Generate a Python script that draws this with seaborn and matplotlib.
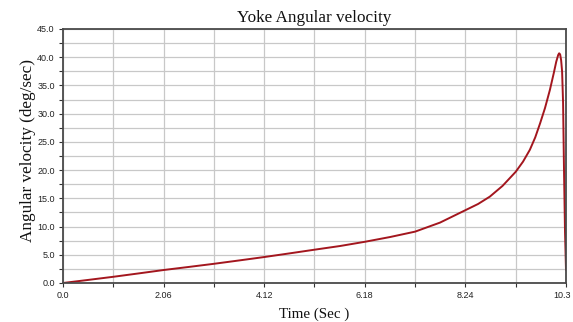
import matplotlib
matplotlib.use("Agg")
import matplotlib.pyplot as plt
import matplotlib.transforms as mtransforms
import seaborn as sns
import pandas as pd
from matplotlib.ticker import MultipleLocator, FixedLocator

time_sec = [0.0, 0.52, 1.03, 1.55, 2.06, 2.58, 3.09, 3.61, 4.12, 4.64, 5.15, 5.67,
            6.18, 6.70, 7.21, 7.72, 8.24, 8.50, 8.74, 9.00, 9.27, 9.42, 9.56, 9.67,
            9.77, 9.87, 9.97, 10.05, 10.10, 10.14, 10.16, 10.18, 10.20, 10.22,
            10.24, 10.26, 10.28, 10.30]
velocity = [0.0, 0.55, 1.1, 1.7, 2.3, 2.85, 3.4, 4.0, 4.6, 5.25, 5.9, 6.55,
            7.3, 8.15, 9.1, 10.7, 12.9, 14.0, 15.3, 17.2, 19.7, 21.5, 23.6, 25.8,
            28.3, 31.0, 34.2, 37.2, 39.2, 40.4, 40.7, 40.5, 39.5, 37.5,
            32.0, 19.5, 9.0, 2.3]

x_ticks = [0.0, 2.06, 4.12, 6.18, 8.24, 10.3]
x_tick_labels = ["0.0", "2.06", "4.12", "6.18", "8.24", "10.3"]

sns.set_theme(style="white")
plt.rcParams['font.family'] = ['Liberation Serif', 'DejaVu Serif']

fig = plt.figure(figsize=(5.73, 3.22), dpi=100)
ax = fig.add_axes([63/573, 1 - 283/322, (566-63)/573, (283-29)/322])

df = pd.DataFrame({"t": time_sec, "v": velocity})
sns.lineplot(data=df, x="t", y="v", ax=ax, color="#a3161e", linewidth=1.4, sort=False)

ax.set_xlim(0, 10.3)
ax.set_ylim(0, 45)
ax.xaxis.set_major_locator(FixedLocator(x_ticks))
ax.set_xticklabels(x_tick_labels)
ax.xaxis.set_minor_locator(MultipleLocator(1.03))
ax.yaxis.set_major_locator(MultipleLocator(5))
ax.yaxis.set_minor_locator(MultipleLocator(2.5))
ax.yaxis.set_major_formatter(matplotlib.ticker.FormatStrFormatter("%.1f"))

ax.grid(True, which="both", color="#c8c8c8", linewidth=0.9)
ax.set_axisbelow(True)
for s in ax.spines.values():
    s.set_color("#4a4a4a")
    s.set_linewidth(1.3)

ax.tick_params(axis="both", which="both", direction="out", length=3, width=0.8,
               colors="#333333", labelsize=6.5, pad=3)
ax.tick_params(which="both", bottom=True, left=True)
for lab in ax.get_xticklabels() + ax.get_yticklabels():
    lab.set_family(['Liberation Sans', 'DejaVu Sans'])
    lab.set_color("#222222")

# keep the last x tick label inside the figure
last = ax.get_xticklabels()[-1]
last.set_transform(last.get_transform() + mtransforms.ScaledTranslation(-4/100, 0, fig.dpi_scale_trans))

ax.set_title("Yoke Angular velocity", fontsize=12.3, color="#111111", pad=5)
ax.set_xlabel("Time (Sec )", fontsize=10.8, color="#111111", labelpad=5)
ax.set_ylabel("Angular velocity (deg/sec)", fontsize=12.3, color="#111111")
ax.yaxis.set_label_coords(-0.054, 0.52)

fig.savefig("out.png", dpi=100)
